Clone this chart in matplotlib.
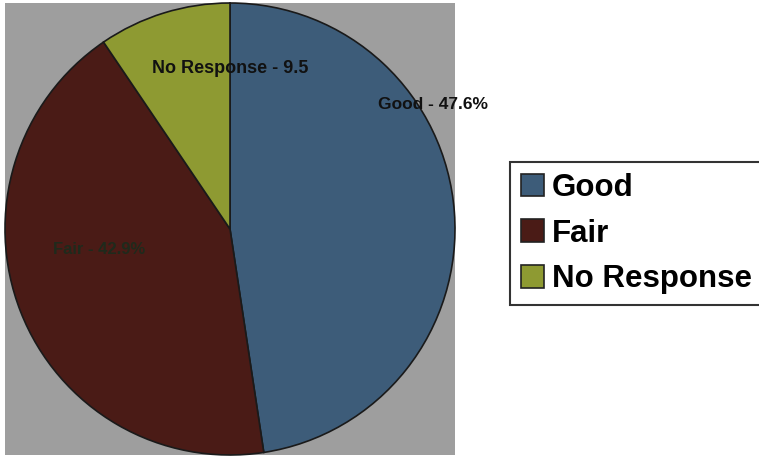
import matplotlib.pyplot as plt

categories = ['Good', 'Fair', 'No Response']
values = [47.6, 42.9, 9.5]
labels = ['Good - 47.6%', 'Fair - 42.9%', 'No Response - 9.5']
colors = ['#3d5c79', '#4a1b16', '#8e9a32']

plt.rcParams['font.family'] = ['Liberation Sans', 'DejaVu Sans']

fig = plt.figure(figsize=(7.59, 4.58), dpi=100)
ax = fig.add_axes([5 / 759, 3 / 458, 450 / 759, 452 / 458])

wedges, _ = ax.pie(values, colors=colors, startangle=90, counterclock=False,
                   radius=1.0, wedgeprops=dict(edgecolor='#1a1a1a', linewidth=1.2))
ax.set_frame_on(True)
ax.set_facecolor('#9e9e9e')
for s in ax.spines.values():
    s.set_visible(False)
ax.set_xlim(-1.0, 1.0)
ax.set_ylim(-1.0, 1.0)
ax.set_aspect('auto')
ax.set_xticks([])
ax.set_yticks([])

# data labels
ax.text(0.90, 0.55, labels[0], fontsize=12.5, fontweight='bold', color='#111111',
        ha='center', va='center', clip_on=False)
ax.text(-0.58, -0.09, labels[1], fontsize=12, fontweight='bold', color='#1f2a1c',
        ha='center', va='center')
ax.text(0.0, 0.71, labels[2], fontsize=13, fontweight='bold', color='#111111',
        ha='center', va='center')

leg = fig.legend(wedges, categories, loc='upper left',
                 bbox_to_anchor=(510 / 759, 1 - 162 / 458),
                 prop=dict(size=22.5, weight='bold'), frameon=True,
                 fancybox=False, edgecolor='black', handlelength=0.75,
                 handleheight=0.75, handletextpad=0.25, borderpad=0.35,
                 labelspacing=0.5, borderaxespad=0)
leg.get_frame().set_linewidth(1.5)
for h in leg.legend_handles:
    h.set_edgecolor('#222222')

fig.savefig('out.png', dpi=100)
